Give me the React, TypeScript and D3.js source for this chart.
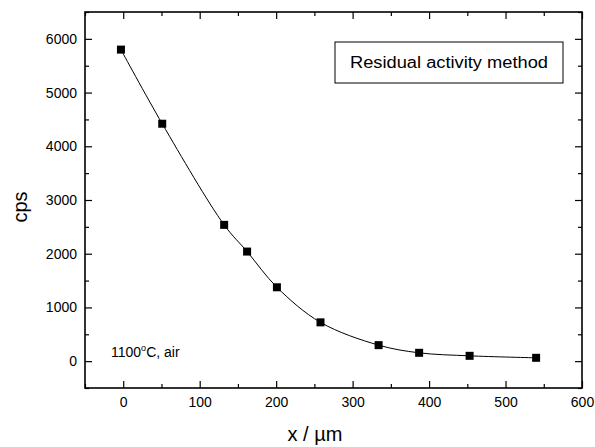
import React, { useEffect, useRef } from "react";
import * as d3 from "d3";

// depth x (µm) and count rate (cps)
const depth = [-3, 51, 132, 162, 201, 258, 334, 387, 453, 540];
const cps = [5800, 4420, 2537, 2040, 1375, 722, 298, 155, 99, 62];

const xTicks = [0, 100, 200, 300, 400, 500, 600];
const yTicks = [0, 1000, 2000, 3000, 4000, 5000, 6000];

const App = () => {
  const ref = useRef<HTMLDivElement>(null);

  useEffect(() => {
    const W = 595;
    const H = 447;
    const margin = { top: 12, right: 13, bottom: 59, left: 85 };
    const width = W - margin.left - margin.right;
    const height = H - margin.top - margin.bottom;
    const font = "'Liberation Sans', Arial, sans-serif";

    d3.select(ref.current).select("svg").remove();

    const root = d3
      .select(ref.current)
      .append("svg")
      .attr("width", W)
      .attr("height", H)
      .style("position", "absolute")
      .style("left", "0px")
      .style("top", "0px")
      .style("background", "#fff");

    const svg = root
      .append("g")
      .attr("transform", `translate(${margin.left},${margin.top})`);

    const x = d3.scaleLinear().domain([-50, 600]).range([0, width]);
    const y = d3.scaleLinear().domain([-500, 6500]).range([height, 0]);

    const xMinor = d3.range(-50, 601, 50).filter((v) => !xTicks.includes(v));
    const yMinor = d3.range(-500, 6501, 500).filter((v) => !yTicks.includes(v));

    const tickStyle = (g: any) => {
      g.select(".domain").remove();
      g.selectAll("line").attr("stroke", "#000").attr("stroke-width", 1.2);
    };

    // bottom
    svg
      .append("g")
      .attr("transform", `translate(0,${height})`)
      .call(d3.axisBottom(x).tickValues(xTicks).tickSize(-7).tickPadding(9).tickFormat(d3.format("d")))
      .call(tickStyle)
      .selectAll("text")
      .style("font-family", font)
      .style("font-size", "14px")
      .attr("fill", "#000");
    svg
      .append("g")
      .attr("transform", `translate(0,${height})`)
      .call(d3.axisBottom(x).tickValues(xMinor).tickSize(-4).tickFormat(() => ""))
      .call(tickStyle);

    // top
    svg
      .append("g")
      .call(d3.axisTop(x).tickValues(xTicks).tickSize(-7).tickFormat(() => ""))
      .call(tickStyle);
    svg
      .append("g")
      .call(d3.axisTop(x).tickValues(xMinor).tickSize(-4).tickFormat(() => ""))
      .call(tickStyle);

    // left
    svg
      .append("g")
      .call(d3.axisLeft(y).tickValues(yTicks).tickSize(-7).tickPadding(8).tickFormat(d3.format("d")))
      .call(tickStyle)
      .selectAll("text")
      .style("font-family", font)
      .style("font-size", "14px")
      .attr("fill", "#000");
    svg
      .append("g")
      .call(d3.axisLeft(y).tickValues(yMinor).tickSize(-4).tickFormat(() => ""))
      .call(tickStyle);

    // right
    svg
      .append("g")
      .attr("transform", `translate(${width},0)`)
      .call(d3.axisRight(y).tickValues(yTicks).tickSize(-7).tickFormat(() => ""))
      .call(tickStyle);
    svg
      .append("g")
      .attr("transform", `translate(${width},0)`)
      .call(d3.axisRight(y).tickValues(yMinor).tickSize(-4).tickFormat(() => ""))
      .call(tickStyle);

    // frame
    svg
      .append("rect")
      .attr("width", width)
      .attr("height", height)
      .attr("fill", "none")
      .attr("stroke", "#000")
      .attr("stroke-width", 1.6);

    const data = depth.map((d, i) => ({ x: d, y: cps[i] }));

    const line = d3
      .line<{ x: number; y: number }>()
      .x((d) => x(d.x))
      .y((d) => y(d.y))
      .curve(d3.curveCatmullRom);

    svg
      .append("path")
      .datum(data)
      .attr("d", line)
      .attr("fill", "none")
      .attr("stroke", "#000")
      .attr("stroke-width", 1);

    const s = 8;
    svg
      .selectAll(".pt")
      .data(data)
      .enter()
      .append("rect")
      .attr("x", (d) => x(d.x) - s / 2)
      .attr("y", (d) => y(d.y) - s / 2)
      .attr("width", s)
      .attr("height", s)
      .attr("fill", "#000");

    // legend box
    const lg = root.append("g");
    lg.append("rect")
      .attr("x", 335)
      .attr("y", 42)
      .attr("width", 228)
      .attr("height", 41)
      .attr("fill", "#fff")
      .attr("stroke", "#000")
      .attr("stroke-width", 1);
    lg.append("text")
      .attr("x", 449)
      .attr("y", 68)
      .attr("text-anchor", "middle")
      .attr("textLength", 198)
      .attr("lengthAdjust", "spacingAndGlyphs")
      .style("font-family", font)
      .style("font-size", "16px")
      .text("Residual activity method");

    // annotation
    const ann = root
      .append("text")
      .attr("x", 111)
      .attr("y", 357)
      .style("font-family", font)
      .style("font-size", "14px");
    ann.append("tspan").text("1100");
    ann.append("tspan").attr("dy", -6).style("font-size", "9px").text("o");
    ann.append("tspan").attr("dy", 6).text("C, air");

    // axis titles
    root
      .append("text")
      .attr("transform", `translate(27,207) rotate(-90)`)
      .attr("text-anchor", "middle")
      .style("font-family", font)
      .style("font-size", "20px")
      .text("cps");

    root
      .append("text")
      .attr("x", 315)
      .attr("y", 441)
      .attr("text-anchor", "middle")
      .style("font-family", font)
      .style("font-size", "20px")
      .text("x / µm");
  }, []);

  return <div ref={ref}></div>;
};

export default App;
